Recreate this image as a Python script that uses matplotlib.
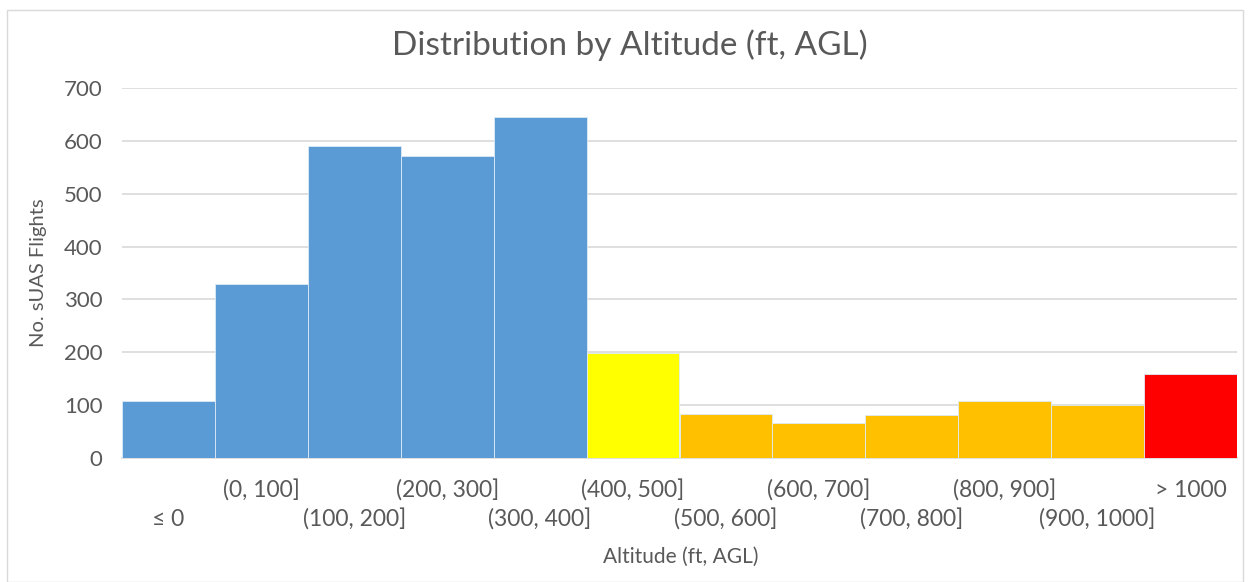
import matplotlib
matplotlib.use("Agg")
import matplotlib.pyplot as plt
from matplotlib.patches import Rectangle

categories = ["\u2264 0", "(0, 100]", "(100, 200]", "(200, 300]", "(300, 400]",
              "(400, 500]", "(500, 600]", "(600, 700]", "(700, 800]",
              "(800, 900]", "(900, 1000]", "> 1000"]
flights = [107, 330, 591, 572, 646, 199, 84, 67, 81, 107, 101, 158]
bar_colors = ["#5B9BD5"] * 5 + ["#FFFF00"] + ["#FFC000"] * 5 + ["#FF0000"]
y_ticks = [0, 100, 200, 300, 400, 500, 600, 700]

plt.rcParams["font.family"] = ["Lato", "DejaVu Sans"]
text_color = "#595959"

fig = plt.figure(figsize=(12.5, 5.82), dpi=100)
ax = fig.add_axes([122 / 1250, 1 - 458 / 582, (1237 - 122) / 1250, (458 - 88) / 582])

x = list(range(len(categories)))
ax.bar(x, flights, width=1.0, color=bar_colors, edgecolor="#DDEBF7", linewidth=0.6, zorder=3)
ax.set_xlim(-0.5, len(categories) - 0.5)
ax.set_ylim(0, 700)
ax.set_yticks(y_ticks)
ax.tick_params(axis="y", length=0, labelsize=16, colors=text_color, pad=14)
ax.yaxis.grid(True, color="#D9D9D9", linewidth=1.2, zorder=0)
ax.set_axisbelow(True)
for side in ["top", "right", "left"]:
    ax.spines[side].set_visible(False)
ax.spines["bottom"].set_color("#D9D9D9")
ax.spines["bottom"].set_linewidth(1.2)

# staggered category labels: two rows under the bars
ax.set_xticks([])
for i, label in enumerate(categories):
    y_off = -0.087 if i % 2 == 1 else -0.166
    ax.text(i, y_off, label, transform=ax.get_xaxis_transform(),
            ha="center", va="center", fontsize=16.5, color=text_color)

ax.set_ylabel("No. sUAS Flights", fontsize=14.5, color=text_color, labelpad=12)
fig.text(681 / 1250, 1 - 557 / 582, "Altitude (ft, AGL)", ha="center", va="center",
         fontsize=15, color=text_color)
fig.text(630 / 1250, 1 - 45 / 582, "Distribution by Altitude (ft, AGL)", ha="center",
         va="center", fontsize=24, color=text_color)

# light frame around the chart area
fig.patches.append(Rectangle((7 / 1250, 0), 1 - 14 / 1250, 1 - 10 / 582,
                             transform=fig.transFigure, fill=False,
                             edgecolor="#D9D9D9", linewidth=1.0))

fig.savefig("out.png", dpi=100)
